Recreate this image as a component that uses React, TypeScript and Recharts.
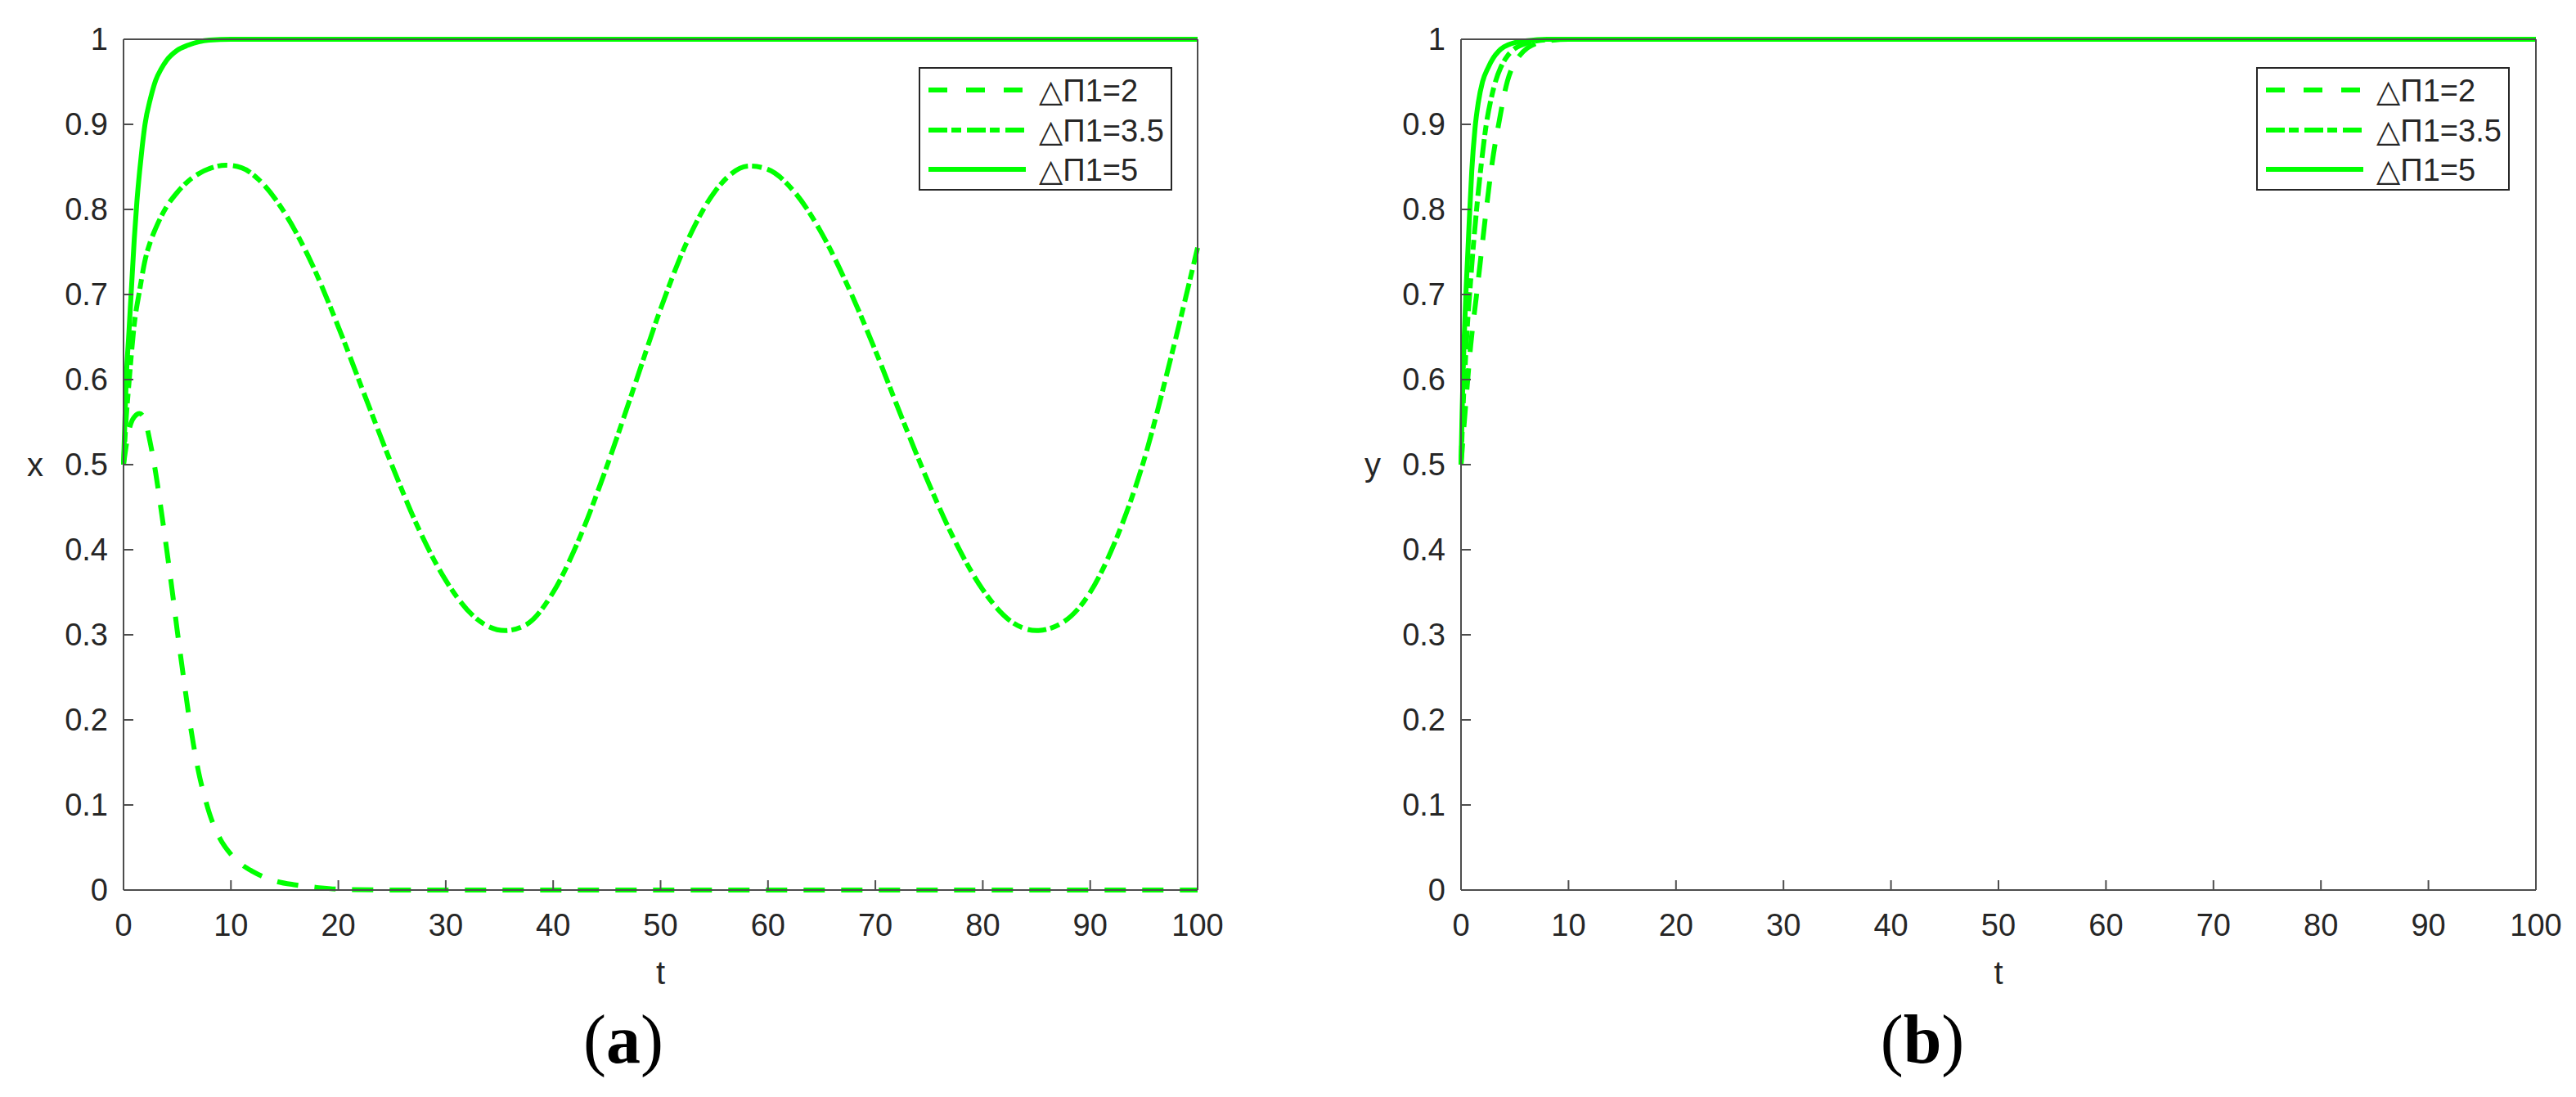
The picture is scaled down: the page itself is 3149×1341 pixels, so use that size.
import { LineChart, Line, XAxis, YAxis, Legend, Label } from "recharts";

const tTicks = [0, 10, 20, 30, 40, 50, 60, 70, 80, 90, 100];
const vTicks = [0, 0.1, 0.2, 0.3, 0.4, 0.5, 0.6, 0.7, 0.8, 0.9, 1];
const seriesNames = ["△Π1=2", "△Π1=3.5", "△Π1=5"];

// (a) x against t
const tA2 = [0, 0.5, 1, 1.5, 2, 2.5, 3, 3.5, 4, 4.5, 5, 5.5, 6, 6.5, 7, 7.5, 8, 9, 10, 11, 12, 14, 16, 18, 20, 25, 100];
const xA2 = [0.5, 0.54, 0.556, 0.56, 0.552, 0.525, 0.49, 0.447, 0.402, 0.355, 0.305, 0.258, 0.212, 0.172, 0.138, 0.112, 0.09, 0.06, 0.042, 0.03, 0.022, 0.011, 0.006, 0.003, 0.001, 0, 0];

const tA35 = [0, 0.25, 0.5, 1, 1.5, 2, 2.5, 3, 4, 5, 6, 7, 8, 9.5, 11, 12.5, 15, 17.5, 20, 22.5, 25, 27.5, 30, 32.5, 35.5, 37.5, 40, 42.5, 45, 47.5, 50, 52.5, 55, 58.3, 60, 62.5, 65, 67.5, 70, 72.5, 75, 77.5, 80, 82.5, 85, 87.5, 90, 92.5, 95, 97.5, 100];
const xA35 = [0.5, 0.555, 0.595, 0.665, 0.705, 0.74, 0.762, 0.778, 0.803, 0.82, 0.833, 0.842, 0.848, 0.852, 0.849, 0.836, 0.796, 0.737, 0.662, 0.58, 0.499, 0.424, 0.364, 0.323, 0.305, 0.312, 0.35, 0.415, 0.498, 0.59, 0.683, 0.763, 0.82, 0.851, 0.847, 0.82, 0.772, 0.708, 0.634, 0.554, 0.477, 0.408, 0.353, 0.317, 0.305, 0.315, 0.35, 0.415, 0.505, 0.625, 0.755];

const tA5 = [0, 0.25, 0.5, 0.75, 1, 1.25, 1.5, 1.75, 2, 2.5, 3, 3.5, 4, 5, 6, 7, 8, 10, 100];
const xA5 = [0.5, 0.6, 0.655, 0.71, 0.765, 0.81, 0.845, 0.875, 0.9, 0.93, 0.952, 0.965, 0.975, 0.987, 0.993, 0.997, 0.999, 1, 1];

// (b) y against t
const tB2 = [0, 0.4, 0.9, 1.45, 1.9, 2.35, 2.9, 3.5, 4.3, 4.8, 5.4, 6.2, 7, 8, 10, 100];
const yB2 = [0.5, 0.565, 0.64, 0.7, 0.75, 0.8, 0.855, 0.9, 0.95, 0.968, 0.98, 0.99, 0.995, 0.998, 1, 1];

const tB35 = [0, 0.2, 0.4, 0.6, 0.8, 1.1, 1.45, 1.9, 2.35, 2.8, 3.2, 3.7, 4.3, 5, 6, 7, 9, 100];
const yB35 = [0.5, 0.57, 0.62, 0.665, 0.7, 0.75, 0.8, 0.855, 0.9, 0.93, 0.95, 0.967, 0.98, 0.989, 0.995, 0.998, 1, 1];

const tB5 = [0, 0.1, 0.2, 0.3, 0.45, 0.6, 0.8, 1, 1.3, 1.6, 2, 2.5, 3, 3.5, 4, 5, 6, 8, 100];
const yB5 = [0.5, 0.56, 0.61, 0.65, 0.7, 0.74, 0.795, 0.845, 0.895, 0.925, 0.95, 0.966, 0.978, 0.986, 0.991, 0.996, 0.998, 1, 1];

const FONT = "'Liberation Sans', 'DejaVu Sans', Arial, sans-serif";
const INK = "#262626";
const AXIS = "#4d4d4d";
const GREEN = "#00ff00";
const LINE_W = 6;
// matlab '--', '-.', '-'
const dashes = ["26 20", "23 5 12 7", undefined];

const zip = (t: number[], v: number[]) => t.map((tt, i) => ({ t: tt, v: v[i] }));

const fmt = (v: number) => (v === 0 || v === 1 ? String(v) : v.toFixed(1));

function LegendBox() {
  const rows = [28, 77, 125];
  return (
    <svg width={310} height={151} style={{ display: "block" }}>
      <rect x={1} y={1} width={308} height={149} fill="#fff" stroke={INK} strokeWidth={2} />
      {seriesNames.map((name, i) => (
        <g key={name}>
          <line
            x1={12}
            x2={131}
            y1={rows[i]}
            y2={rows[i]}
            stroke={GREEN}
            strokeWidth={LINE_W}
            strokeDasharray={i === 0 ? "23 23" : dashes[i]}
          />
          <text x={147} y={rows[i] + 14} fontSize={38} fill={INK} fontFamily={FONT}>
            {name}
          </text>
        </g>
      ))}
    </svg>
  );
}

interface PanelProps {
  left: number;
  width: number;
  plotLeft: number;
  plotRight: number;
  data: { t: number; v: number }[][];
  yName: string;
  letter: string;
  captionX: number;
  legendX: number;
}

function Panel({ left, width, plotLeft, plotRight, data, yName, letter, captionX, legendX }: PanelProps) {
  const height = 1341;
  const plotTop = 48;
  const plotBottom = 1088;
  const tickStyle = { fontSize: 38, fill: INK, fontFamily: FONT };
  return (
    <div style={{ position: "absolute", left, top: 0, width, height }}>
      <LineChart
        width={width}
        height={height}
        margin={{
          top: plotTop - 1,
          left: plotLeft - 1,
          right: width - plotRight - 1,
          bottom: height - plotBottom - 1,
        }}
      >
        <XAxis
          xAxisId="b"
          dataKey="t"
          type="number"
          domain={[0, 100]}
          ticks={tTicks}
          interval={0}
          height={1}
          tickSize={-12}
          tickMargin={41}
          tick={tickStyle}
          stroke={AXIS}
          strokeWidth={2}
        >
          <Label value="t" position="bottom" offset={86} fill={INK} fontSize={40} fontFamily={FONT} />
          <Label
            content={() => (
              <text
                x={captionX}
                y={1299}
                textAnchor="middle"
                fontFamily="'Liberation Serif', 'Times New Roman', serif"
                fontSize={84}
                fill="#000"
              >
                (<tspan fontWeight="bold">{letter}</tspan>)
              </text>
            )}
          />
        </XAxis>
        <XAxis
          xAxisId="top"
          orientation="top"
          dataKey="t"
          type="number"
          domain={[0, 100]}
          ticks={tTicks}
          interval={0}
          height={1}
          tickSize={-12}
          tick={false}
          stroke={AXIS}
          strokeWidth={2}
        />
        <YAxis
          yAxisId="l"
          type="number"
          domain={[0, 1]}
          ticks={vTicks}
          interval={0}
          width={1}
          tickSize={-12}
          tickMargin={31}
          tick={tickStyle}
          tickFormatter={fmt}
          stroke={AXIS}
          strokeWidth={2}
        >
          <Label value={yName} position="left" offset={97} fill={INK} fontSize={40} fontFamily={FONT} />
        </YAxis>
        <YAxis
          yAxisId="r"
          orientation="right"
          type="number"
          domain={[0, 1]}
          ticks={vTicks}
          interval={0}
          width={1}
          tickSize={-12}
          tick={false}
          stroke={AXIS}
          strokeWidth={2}
        />
        <Legend
          layout="horizontal"
          align="center"
          verticalAlign="middle"
          wrapperStyle={{ left: legendX, top: 82, width: 310, height: 151 }}
          content={() => <LegendBox />}
        />
        {data.map((pts, i) => (
          <Line
            key={seriesNames[i]}
            xAxisId="b"
            yAxisId="l"
            data={pts}
            dataKey="v"
            name={seriesNames[i]}
            type="monotone"
            stroke={GREEN}
            strokeWidth={LINE_W}
            strokeDasharray={dashes[i]}
            dot={false}
            activeDot={false}
            isAnimationActive={false}
          />
        ))}
      </LineChart>
    </div>
  );
}

export default function App() {
  const dataA = [zip(tA2, xA2), zip(tA35, xA35), zip(tA5, xA5)];
  const dataB = [zip(tB2, yB2), zip(tB35, yB35), zip(tB5, yB5)];
  return (
    <div
      style={{
        position: "absolute",
        left: 0,
        top: 0,
        width: 3149,
        height: 1341,
        background: "#fff",
        fontFamily: FONT,
      }}
    >
      <Panel
        left={0}
        width={1575}
        plotLeft={151}
        plotRight={1464}
        data={dataA}
        yName="x"
        letter="a"
        captionX={762}
        legendX={1123}
      />
      <Panel
        left={1575}
        width={1574}
        plotLeft={211}
        plotRight={1525}
        data={dataB}
        yName="y"
        letter="b"
        captionX={775}
        legendX={1183}
      />
    </div>
  );
}
